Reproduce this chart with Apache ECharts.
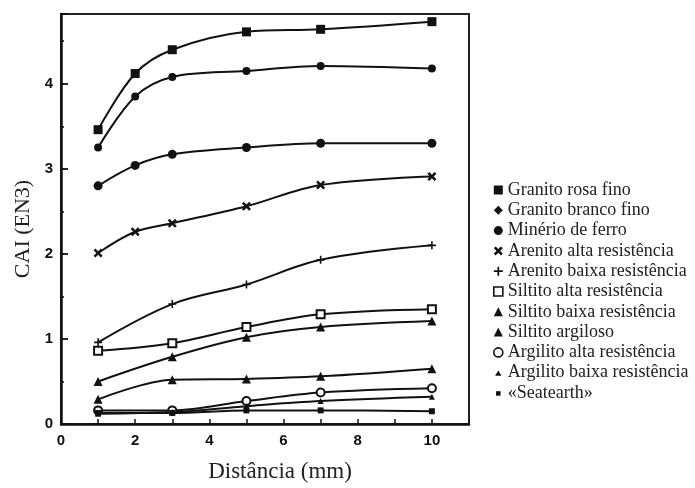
<!DOCTYPE html>
<html>
<head>
<meta charset="utf-8">
<script src="https://cdn.jsdelivr.net/npm/echarts@6/dist/echarts.min.js"></script>
<style>
html,body{margin:0;padding:0;background:#fff;}
#chart{width:695px;height:488px;}
</style>
</head>
<body>
<div id="chart"></div>
<script>
// ---- data ----
const seriesNames = [
  'Granito rosa fino',
  'Granito branco fino',
  'Minério de ferro',
  'Arenito alta resistência',
  'Arenito baixa resistência',
  'Siltito alta resistência',
  'Siltito baixa resistência',
  'Siltito argiloso',
  'Argilito alta resistência',
  'Argilito baixa resistência',
  '«Seatearth»'
];
const distLong = [1, 2, 3, 5, 7, 10];
const distShort = [1, 3, 5, 7, 10];
const granitoRosa = [3.46, 4.12, 4.40, 4.61, 4.64, 4.73];
const granitoBranco = [3.25, 3.85, 4.08, 4.15, 4.21, 4.18];
const minerio = [2.80, 3.04, 3.17, 3.25, 3.30, 3.30];
const arenitoAlta = [2.01, 2.26, 2.36, 2.56, 2.81, 2.91];
const arenitoBaixa = [0.96, 1.41, 1.64, 1.93, 2.10];
const siltitoAlta = [0.86, 0.95, 1.14, 1.29, 1.35];
const siltitoBaixa = [0.50, 0.79, 1.02, 1.14, 1.21];
const siltitoArgiloso = [0.29, 0.52, 0.53, 0.56, 0.65];
const argilitoAlta = [0.16, 0.16, 0.27, 0.37, 0.42];
const argilitoBaixa = [0.12, 0.14, 0.21, 0.27, 0.32];
const seatearth = [0.13, 0.13, 0.16, 0.16, 0.15];
const xTickLabels = ['0', '2', '4', '6', '8', '10'];
const yTickLabels = ['0', '1', '2', '3', '4'];

// ---- symbols ----
const X_PATH = 'path://M0,2 L2,0 L5,3 L8,0 L10,2 L7,5 L10,8 L8,10 L5,7 L2,10 L0,8 L3,5 Z';
const PLUS_PATH = 'path://M4,0 H6 V4 H10 V6 H6 V10 H4 V6 H0 V4 H4 Z';
const SMALL_TRI = 'path://M0,0 M10,10 M5,2.5 L8.5,8.5 L1.5,8.5 Z';
const SMALL_SQ = 'path://M0,0 M10,10 M2.5,3 H7.5 V8 H2.5 Z';

const seriesDefs = [
  {data: granitoRosa, x: distLong, symbol: 'rect', size: 9, legend: 'rect'},
  {data: granitoBranco, x: distLong, symbol: 'circle', size: 8, legend: 'diamond'},
  {data: minerio, x: distLong, symbol: 'circle', size: 9, legend: 'circle'},
  {data: arenitoAlta, x: distLong, symbol: X_PATH, size: 9, legend: X_PATH},
  {data: arenitoBaixa, x: distShort, symbol: PLUS_PATH, size: 8, legend: PLUS_PATH},
  {data: siltitoAlta, x: distShort, symbol: 'emptyRect', size: 8, legend: 'rect', hollow: true},
  {data: siltitoBaixa, x: distShort, symbol: 'triangle', size: 9, legend: 'triangle'},
  {data: siltitoArgiloso, x: distShort, symbol: 'triangle', size: 9, legend: 'triangle'},
  {data: argilitoAlta, x: distShort, symbol: 'emptyCircle', size: 8, legend: 'circle', hollow: true},
  {data: argilitoBaixa, x: distShort, symbol: 'triangle', size: 6, legend: SMALL_TRI},
  {data: seatearth, x: distShort, symbol: 'rect', size: 6, legend: SMALL_SQ}
];

const series = seriesDefs.map((d, i) => ({
  name: seriesNames[i],
  type: 'line',
  smooth: 0.35,
  data: d.x.map((xv, j) => [xv, d.data[j]]),
  symbol: d.symbol,
  symbolSize: d.size,
  showSymbol: true,
  lineStyle: {color: '#111', width: 2},
  itemStyle: {color: '#111', borderColor: '#111', borderWidth: d.hollow ? 1.6 : 0},
  emphasis: {disabled: true},
  z: 3
}));

const legendData = seriesDefs.map((d, i) => {
  const o = {name: seriesNames[i], icon: d.legend};
  if (d.hollow) {
    o.itemStyle = {color: '#fff', borderColor: '#111', borderWidth: 1.6};
  } else {
    o.itemStyle = {color: '#111', borderWidth: 0};
  }
  return o;
});

const chart = echarts.init(document.getElementById('chart'), null, {renderer: 'canvas'});
chart.setOption({
  animation: false,
  backgroundColor: '#fff',
  grid: {left: 61, top: 14, right: 226, bottom: 55, show: true, borderColor: '#222', borderWidth: 2, containLabel: false},
  legend: {
    orient: 'vertical',
    left: 493,
    top: 180,
    itemWidth: 9,
    itemHeight: 9,
    itemGap: 0.3,
    padding: 0,
    selectedMode: false,
    data: legendData,
    textStyle: {fontFamily: 'Liberation Serif', fontSize: 18, color: '#222', lineHeight: 20}
  },
  xAxis: {
    type: 'value',
    min: 0,
    max: 11,
    interval: 1,
    name: 'Distância (mm)',
    nameLocation: 'middle',
    nameGap: 36,
    nameTextStyle: {fontFamily: 'Liberation Serif', fontSize: 23, color: '#222', padding: [0, 0, 0, 30]},
    axisLine: {lineStyle: {color: '#111', width: 2.5}},
    axisTick: {inside: true, length: 5, lineStyle: {color: '#111', width: 1.5}},
    axisLabel: {
      margin: 9,
      fontFamily: 'Liberation Sans',
      fontWeight: 'bold',
      fontSize: 15,
      color: '#111',
      formatter: v => (xTickLabels.indexOf(String(v)) >= 0 ? String(v) : '')
    },
    splitLine: {show: false}
  },
  yAxis: [{
    type: 'value',
    min: 0,
    max: 4.82,
    interval: 0.5,
    name: 'CAI (EN3)',
    nameLocation: 'middle',
    nameGap: 27,
    nameTextStyle: {fontFamily: 'Liberation Serif', fontSize: 22, color: '#222', padding: [0, 20, 0, 0]},
    axisLine: {lineStyle: {color: '#111', width: 2.5}},
    axisTick: {inside: true, length: 3, lineStyle: {color: '#111', width: 1.5}},
    axisLabel: {
      margin: 8,
      fontFamily: 'Liberation Sans',
      fontWeight: 'bold',
      fontSize: 15,
      color: '#111',
      formatter: v => (yTickLabels.indexOf(String(v)) >= 0 ? String(v) : '')
    },
    splitLine: {show: false}
  }, {
    type: 'value',
    position: 'left',
    min: 0,
    max: 4.82,
    interval: 1,
    axisLine: {show: false},
    axisTick: {inside: true, length: 7, lineStyle: {color: '#111', width: 1.8}},
    axisLabel: {show: false},
    splitLine: {show: false}
  }],
  series: series
});
</script>
</body>
</html>
